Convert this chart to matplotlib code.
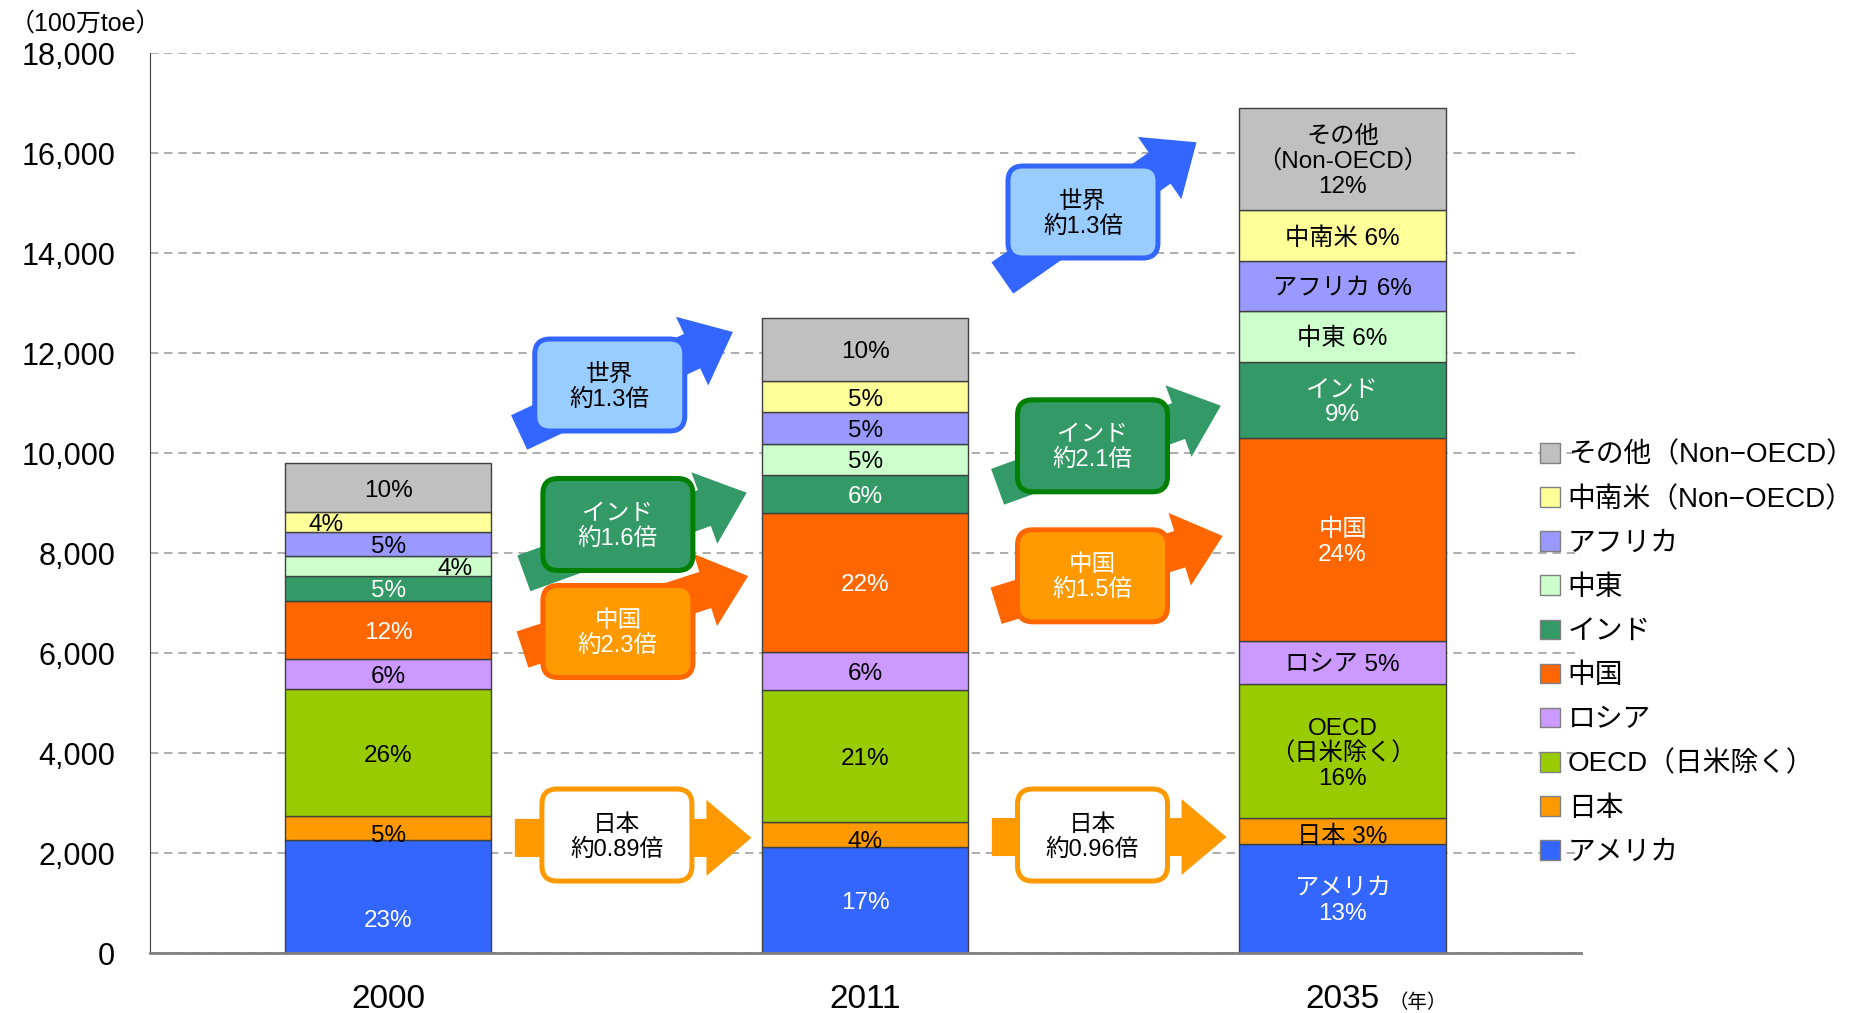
import matplotlib
matplotlib.use('Agg')
import matplotlib.pyplot as plt
from matplotlib.patches import FancyArrowPatch, FancyBboxPatch, Patch
from matplotlib.ticker import FuncFormatter

plt.rcParams['font.family'] = ['Liberation Sans', 'Noto Sans CJK JP', 'DejaVu Sans']

# energy demand by region (million toe)
years = ['2000', '2011', '2035']
regions = ['アメリカ', '日本', 'OECD（日米除く）', 'ロシア', '中国', 'インド',
           '中東', 'アフリカ', '中南米（Non−OECD）', 'その他（Non−OECD）']
america = [2266, 2127, 2186]
japan = [480, 505, 511]
oecd = [2540, 2640, 2699]
russia = [600, 759, 851]
china = [1166, 2782, 4055]
india = [494, 759, 1533]
mideast = [394, 615, 1014]
africa = [486, 633, 1006]
latam = [394, 632, 1014]
others = [980, 1256, 2033]

america_lbl = ['23%', '17%', 'アメリカ\n13%']
japan_lbl = ['5%', '4%', '日本 3%']
oecd_lbl = ['26%', '21%', 'OECD\n（日米除く）\n16%']
russia_lbl = ['6%', '6%', 'ロシア 5%']
china_lbl = ['12%', '22%', '中国\n24%']
india_lbl = ['5%', '6%', 'インド\n9%']
mideast_lbl = ['4%', '5%', '中東 6%']
africa_lbl = ['5%', '5%', 'アフリカ 6%']
latam_lbl = ['4%', '5%', '中南米 6%']
others_lbl = ['10%', '10%', 'その他\n（Non-OECD）\n12%']

# growth between periods
world_ratio = ['1.3', '1.3']
india_ratio = ['1.6', '2.1']
china_ratio = ['2.3', '1.5']
japan_ratio = ['0.89', '0.96']

series = [america, japan, oecd, russia, china, india, mideast, africa, latam, others]
seg_labels = [america_lbl, japan_lbl, oecd_lbl, russia_lbl, china_lbl, india_lbl,
              mideast_lbl, africa_lbl, latam_lbl, others_lbl]
colors = ['#3366FF', '#FF9900', '#99CC00', '#CC99FF', '#FF6600', '#339966',
          '#CCFFCC', '#9999FF', '#FFFF99', '#C0C0C0']
white_text = {0, 4, 5}
# small nudges of some labels: (series, year) -> (dx, dy)
nudge = {(0, 0): (0, -420), (8, 0): (-0.13, 0), (6, 0): (0.14, 0),
         (1, 0): (0, -100), (1, 1): (0, -100), (1, 2): (0, -60)}

fig = plt.figure(figsize=(18.67, 10.13), dpi=100)
ax = fig.add_axes([0.0803, 0.0589, 0.7665, 0.8885])

x = range(len(years))
bottom = [0, 0, 0]
for i, vals in enumerate(series):
    ax.bar(x, vals, 0.432, bottom=bottom, color=colors[i], edgecolor='#404040',
           linewidth=1, zorder=2)
    for j in x:
        dx, dy = nudge.get((i, j), (0, 0))
        ax.text(j + dx, bottom[j] + vals[j] / 2 + dy - 60, seg_labels[i][j],
                ha='center', va='center', fontsize=17.5, linespacing=1.15,
                color='white' if i in white_text else 'black', zorder=3)
    bottom = [b + v for b, v in zip(bottom, vals)]

ax.set_xlim(-0.5, 2.5)
ax.set_ylim(0, 18000)
ax.set_yticks(range(0, 18001, 2000))
ax.yaxis.set_major_formatter(FuncFormatter(lambda v, p: f'{int(v):,}'))
ax.set_xticks(list(x))
ax.set_xticklabels(years)
ax.tick_params(axis='y', length=0, labelsize=22, pad=25)
ax.tick_params(axis='x', length=0, labelsize=24, pad=22)
ax.yaxis.grid(True, linestyle=(0, (5, 3.5)), color='#A0A0A0', linewidth=1.2)
ax.set_axisbelow(True)
for s in ['top', 'right']:
    ax.spines[s].set_visible(False)
ax.spines['left'].set_color('#404040')
ax.spines['bottom'].set_color('#808080')
ax.spines['bottom'].set_linewidth(2)

# growth arrows with boxes
px_x = 1 / 477.0      # data x per pixel
px_y = 20.0           # data y per pixel
box_w, box_h = 150 * px_x, 92 * px_y
styles = {
    'world': ('#3366FF', '#99CCFF', '#3366FF', 'black', '世界'),
    'india': ('#339966', '#339966', '#008000', 'white', 'インド'),
    'china': ('#FF6600', '#FF9900', '#FF6600', 'white', '中国'),
    'japan': ('#FF9900', 'white', '#FF9900', 'black', '日本'),
}
ratios = {'world': world_ratio, 'india': india_ratio, 'china': china_ratio,
          'japan': japan_ratio}
# (key, period, tail, tip, box centre)
arrows = [
    ('world', 0, (0.274, 10416), (0.722, 12426), (0.464, 11366)),
    ('india', 0, (0.284, 7600), (0.751, 9212), (0.481, 8576)),
    ('china', 0, (0.281, 6076), (0.754, 7546), (0.481, 6436)),
    ('japan', 0, (0.265, 2308), (0.761, 2308), (0.479, 2366)),
    ('world', 1, (1.287, 13506), (1.694, 16220), (1.456, 14826)),
    ('india', 1, (1.277, 9330), (1.745, 10952), (1.476, 10150)),
    ('china', 1, (1.274, 6952), (1.749, 8346), (1.476, 7550)),
    ('japan', 1, (1.265, 2326), (1.757, 2326), (1.476, 2366)),
]
for key, k, tail, tip, c in arrows:
    acol, face, edge, tcol, name = styles[key]
    arr = FancyArrowPatch(tail, tip, shrinkA=0, shrinkB=0, mutation_scale=1,
                          arrowstyle='simple,head_length=32.4,head_width=54.7,tail_width=27.4',
                          facecolor=acol, edgecolor='none', zorder=4)
    ax.add_patch(arr)
    box = FancyBboxPatch((c[0] - box_w / 2, c[1] - box_h / 2), box_w, box_h,
                         boxstyle='round,pad=0,rounding_size=0.032',
                         mutation_aspect=px_y / px_x, facecolor=face,
                         edgecolor=edge, linewidth=3.6, zorder=5)
    ax.add_patch(box)
    ax.text(c[0], c[1] - 40, f'{name}\n約{ratios[key][k]}倍', ha='center', va='center',
            fontsize=17, color=tcol, linespacing=1.15, zorder=6)

handles = [Patch(facecolor=colors[i], edgecolor='#808080', linewidth=1)
           for i in range(len(regions))][::-1]
fig.legend(handles, regions[::-1], loc='upper left',
           bbox_to_anchor=(1540 / 1867, 1 - 442 / 1013), frameon=False,
           fontsize=20, handlelength=0.72, handleheight=0.72, handletextpad=0.28,
           labelspacing=0.65, borderpad=0, borderaxespad=0)

fig.text(10 / 1867, 1 - 24 / 1013, '（100万toe）', fontsize=18, va='center', ha='left')
fig.text(1388 / 1867, 1 - 1003 / 1013, '（年）', fontsize=14, va='center', ha='left')

fig.savefig('out.png', dpi=100)
